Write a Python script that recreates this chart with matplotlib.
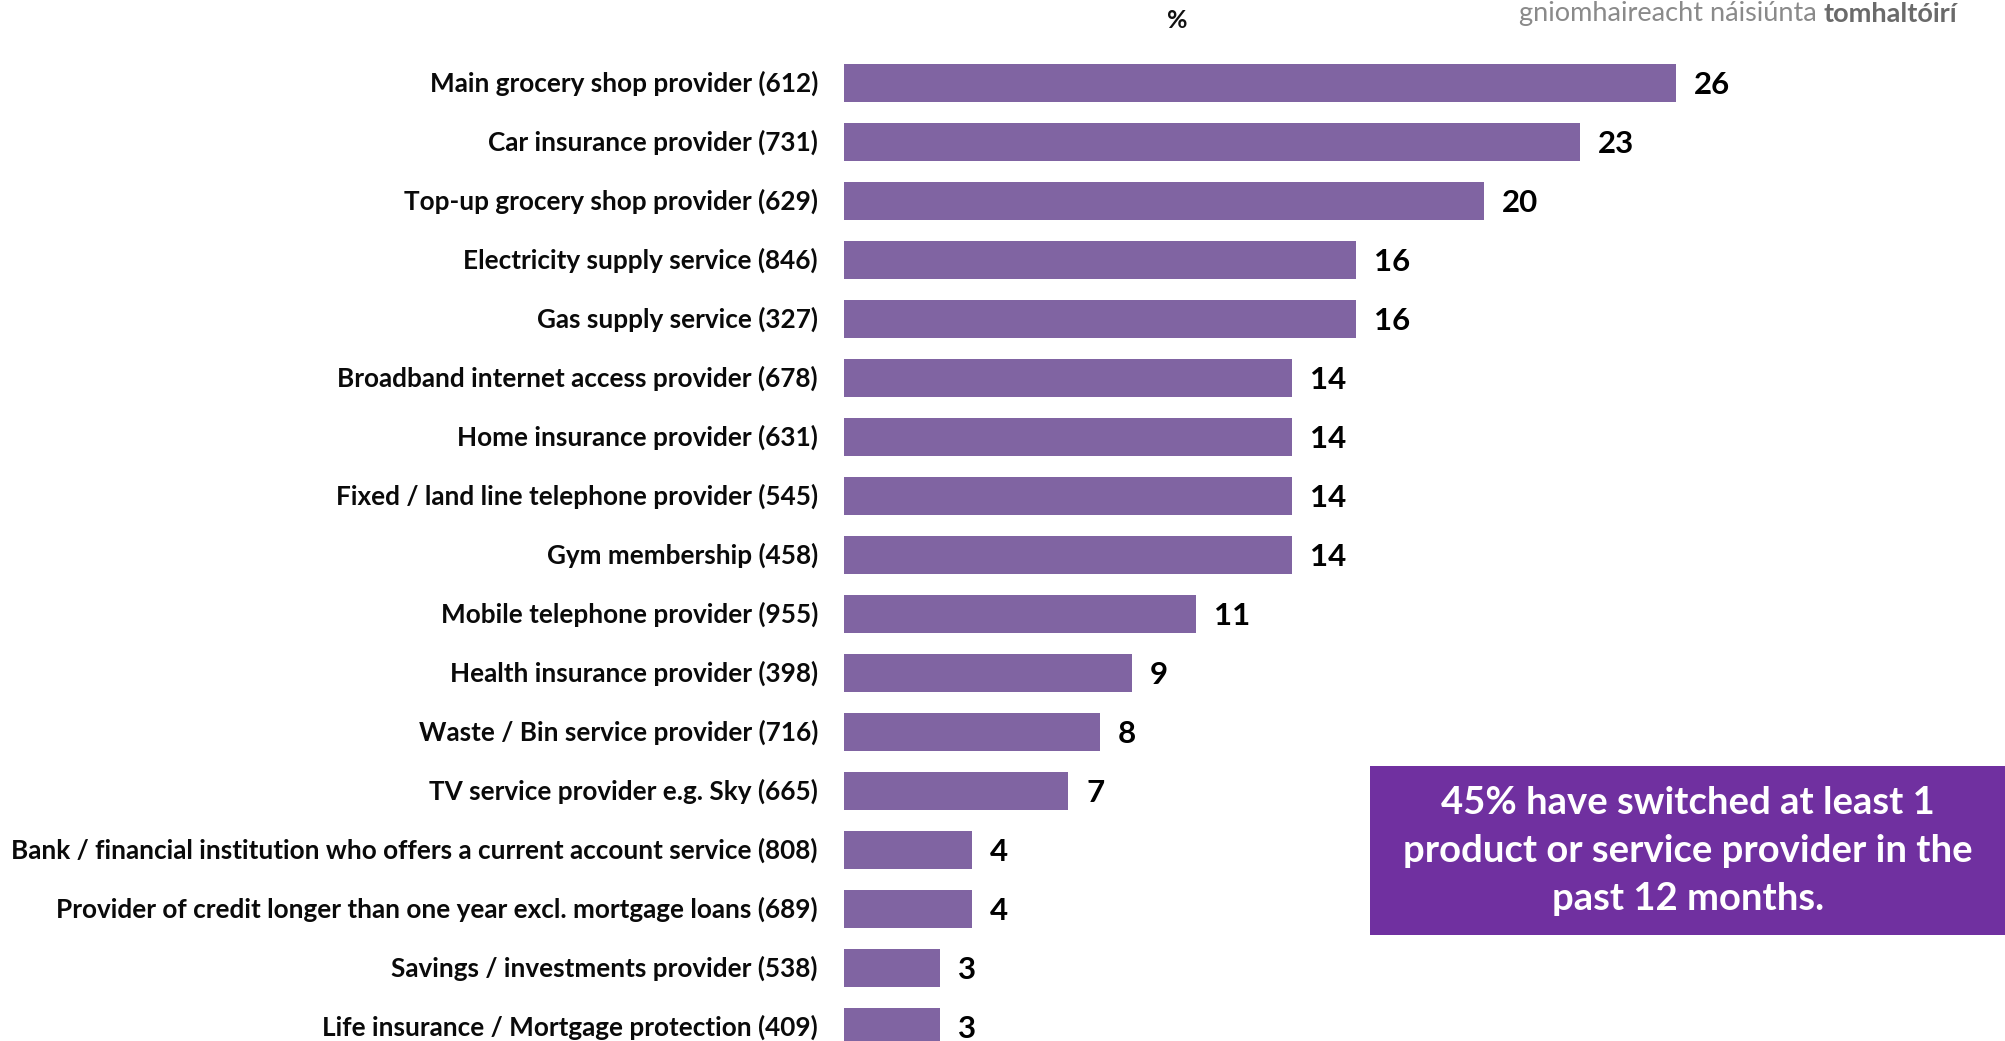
import matplotlib
matplotlib.use("Agg")
import matplotlib.pyplot as plt

categories = [
    "Main grocery shop provider (612)",
    "Car insurance provider (731)",
    "Top-up grocery shop provider (629)",
    "Electricity supply service (846)",
    "Gas supply service (327)",
    "Broadband internet access provider (678)",
    "Home insurance provider (631)",
    "Fixed / land line telephone provider (545)",
    "Gym membership (458)",
    "Mobile telephone provider (955)",
    "Health insurance provider (398)",
    "Waste / Bin service provider (716)",
    "TV service provider e.g. Sky (665)",
    "Bank / financial institution who offers a current account service (808)",
    "Provider of credit longer than one year excl. mortgage loans (689)",
    "Savings / investments provider (538)",
    "Life insurance / Mortgage protection (409)",
]
values = [26, 23, 20, 16, 16, 14, 14, 14, 14, 11, 9, 8, 7, 4, 4, 3, 3]

axis_title = "%"
callout = "45% have switched at least 1\nproduct or service provider in the\npast 12 months."
brand_regular = "gniomhaireacht náisiúnta "
brand_bold = "tomhaltóirí"

BAR = "#8064A2"
BOX = "#7030A0"
FONT = ["Lato", "DejaVu Sans"]

W, H = 2006, 1041
fig = plt.figure(figsize=(W / 100, H / 100), dpi=100)
fig.patch.set_facecolor("white")

# axes geometry in pixels
x0 = 844
px_per_unit = 32.0
xmax = 36
row0, pitch = 83, 59.0
ax = fig.add_axes([x0 / W, 0, xmax * px_per_unit / W, 1])
ax.set_xlim(0, xmax)
ax.set_ylim((H - row0) / pitch, -row0 / pitch)
ax.axis("off")

ypos = list(range(len(categories)))
ax.barh(ypos, values, height=0.66, color=BAR, edgecolor="none")

for y, v, name in zip(ypos, values, categories):
    ax.annotate(name, xy=(0, y), xytext=(-26, 0), textcoords="offset pixels",
                ha="right", va="center", fontsize=18.8, fontweight="bold",
                family=FONT, color="#0a0a0a")
    ax.annotate(f"{v}", xy=(v, y), xytext=(18, -2), textcoords="offset pixels",
                ha="left", va="center", fontsize=22.5, fontweight="bold",
                family=FONT, color="#000000")

fig.text(1177 / W, 1 - 20 / H, axis_title, ha="center", va="center",
         fontsize=18, fontweight="bold", family=FONT, color="#111111")

# branding line at the top right
t1 = fig.text(1519 / W, 1 - 21 / H, brand_regular, ha="left", va="baseline",
              fontsize=19.5, family=FONT, color="#8a8a8a")
ax.annotate(brand_bold, xy=(1, 0), xycoords=t1, ha="left", va="bottom",
            fontsize=19.5, fontweight="bold", family=FONT, color="#6a6a6a",
            annotation_clip=False)

# callout box
bx0, by0, bx1, by1 = 1370, 766, 2006, 935
fig.patches.append(plt.Rectangle((bx0 / W, 1 - by1 / H), (bx1 - bx0) / W,
                                 (by1 - by0) / H, transform=fig.transFigure,
                                 facecolor=BOX, edgecolor="none", zorder=5))
fig.text((bx0 + bx1) / 2 / W, 1 - (by0 + by1) / 2 / H, callout, ha="center",
         va="center", fontsize=27.5, fontweight="bold", family=FONT,
         color="white", linespacing=1.5, zorder=6)

fig.savefig("out.png", dpi=100, facecolor="white")
